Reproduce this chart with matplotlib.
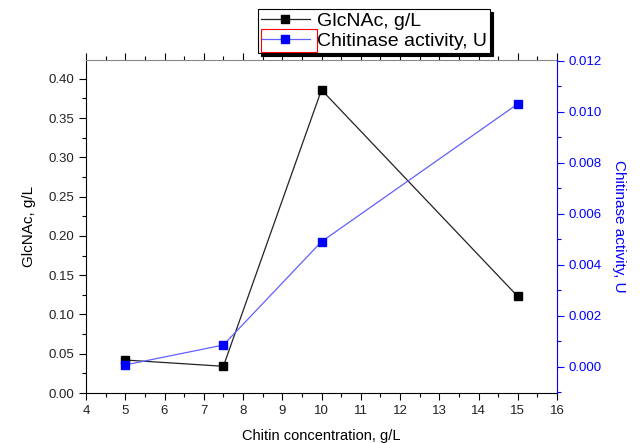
import matplotlib.pyplot as plt
from matplotlib.ticker import MultipleLocator
from matplotlib.patches import Rectangle

# data
chitin = [5, 7.5, 10, 15]
glcnac = [0.042, 0.034, 0.386, 0.123]
chitinase = [0.00007, 0.00085, 0.0049, 0.0103]

plt.rcParams['font.family'] = ['Liberation Sans', 'DejaVu Sans']
plt.rcParams['font.size'] = 9

fig = plt.figure(figsize=(6.44, 4.43), dpi=100)
ax = fig.add_axes([86 / 644, 1 - 393 / 443, (557 - 86) / 644, (393 - 60) / 443])
ax2 = ax.twinx()

l1, = ax.plot(chitin, glcnac, color='#222222', lw=0.9, marker='s', ms=6,
              mfc='black', mec='black', label='GlcNAc, g/L')
l2, = ax2.plot(chitin, chitinase, color='#6060ff', lw=0.9, marker='s', ms=6,
               mfc='blue', mec='blue', label='Chitinase activity, U')

# left axis
ax.set_xlim(4, 16)
ax.set_ylim(0, 0.424)
ax.xaxis.set_major_locator(MultipleLocator(1))
ax.xaxis.set_minor_locator(MultipleLocator(0.5))
ax.yaxis.set_major_locator(MultipleLocator(0.05))
ax.yaxis.set_minor_locator(MultipleLocator(0.025))
ax.yaxis.set_major_formatter(lambda v, p: f'{v:.2f}')
ax.tick_params(axis='both', which='major', direction='out', length=5, width=0.8,
               labelsize=9.5, labelcolor='#222222')
ax.tick_params(axis='both', which='minor', direction='out', length=3, width=0.8)
ax.tick_params(axis='x', which='both', top=True, labeltop=False)
ax.set_xlabel('Chitin concentration, g/L', fontsize=10.5, labelpad=9)
ax.set_ylabel('GlcNAc, g/L', fontsize=11, labelpad=9)
ax.spines['top'].set_color('#888888')
ax.spines['right'].set_visible(False)

# right axis
ax2.set_ylim(-0.00103, 0.01202)
ax2.yaxis.set_major_locator(MultipleLocator(0.002))
ax2.yaxis.set_minor_locator(MultipleLocator(0.001))
ax2.yaxis.set_major_formatter(lambda v, p: f'{v:.3f}')
ax2.tick_params(axis='y', which='major', direction='out', length=5, width=0.8,
                colors='blue', labelsize=9.5)
ax2.tick_params(axis='y', which='minor', direction='out', length=3, width=0.8,
                colors='blue')
ax2.spines['right'].set_color('blue')
for s in ['top', 'left', 'bottom']:
    ax2.spines[s].set_visible(False)
ax2.set_ylabel('Chitinase activity, U', color='blue', fontsize=11,
               rotation=270, labelpad=17)

# legend box with solid shadow, above the plot
leg = fig.legend([l1, l2], ['GlcNAc, g/L', 'Chitinase activity, U'],
                 loc='upper left', bbox_to_anchor=(258 / 644, 1 - 9 / 443),
                 fontsize=14, frameon=True, fancybox=False,
                 shadow={'color': 'black', 'alpha': 1},
                 edgecolor='black', handlelength=2.5, borderpad=0.15,
                 labelspacing=0.15, handletextpad=0.4, borderaxespad=0)
leg.get_frame().set_linewidth(0.8)
leg.get_frame().set_alpha(1)
leg.set_zorder(10)

# red box round the second legend handle, as in the source image
fig.canvas.draw()
hb = leg.legend_handles[1].get_window_extent(fig.canvas.get_renderer())
lb = leg.get_window_extent(fig.canvas.get_renderer())
x0 = lb.x0 + 3
y0 = lb.y0 + 1
w = hb.x1 - x0 + 3
h = (hb.y0 + hb.y1) / 2 - y0 + 10
fig.patches.append(Rectangle((x0 / 644, y0 / 443), w / 644, h / 443,
                             transform=fig.transFigure, fill=False,
                             edgecolor='red', lw=0.8, zorder=11))

fig.savefig('out.png', dpi=100)
